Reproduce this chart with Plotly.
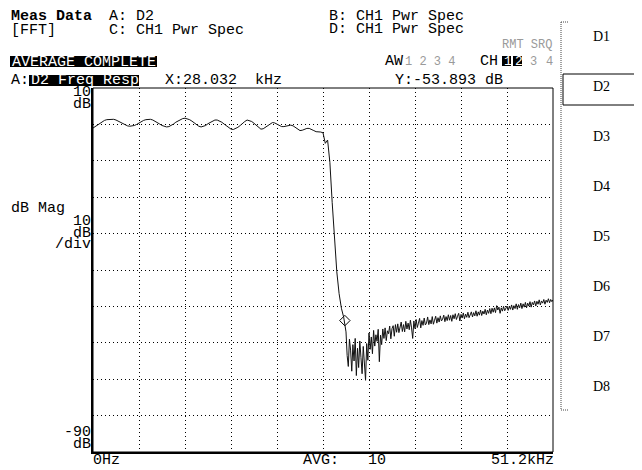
import numpy as np
import plotly.graph_objects as go

# analyzer bins: passband/rolloff part and noise-floor part
freq_pass_khz = np.linspace(0, 27.904, 110)
freq_floor_khz = np.linspace(28.16, 51.2, 181)

# D2 frequency response, dB
pass_db = [
    -1.0, -0.6, -0.1, 0.4, 0.8, 1.1, 1.3, 1.4, 1.4, 1.4,
    1.2, 0.9, 0.5, 0.1, -0.2, -0.4, -0.5, -0.5, -0.3, 0.0,
    0.4, 0.8, 1.1, 1.3, 1.4, 1.4, 1.2, 0.9, 0.5, 0.1,
    -0.3, -0.6, -0.7, -0.6, -0.3, 0.1, 0.6, 1.0, 1.4, 1.6,
    1.7, 1.6, 1.3, 0.9, 0.4, -0.1, -0.5, -0.7, -0.6, -0.3,
    0.2, 0.6, 1.0, 1.2, 1.2, 1.0, 0.6, 0.1, -0.4, -0.9,
    -1.3, -1.4, -1.2, -0.8, -0.3, 0.3, 0.8, 1.2, 1.1, 0.8,
    0.3, -0.3, -0.9, -1.3, -1.2, -0.8, -0.3, 0.2, 0.5, 0.4,
    0.1, -0.3, -0.6, -0.6, -0.4, -0.2, -0.2, -0.4, -0.9, -1.4,
    -1.7, -1.6, -1.3, -1.1, -1.1, -1.3, -1.7, -2.0, -2.0, -2.1,
    -2.3, -5.2, -4.3, -10.5, -21.5, -30.5, -40.5, -46.5, -50.5, -53.0,
]
floor_db = [
    -57.0, -63.5, -66.5, -59.0, -62.0, -67.8, -60.5, -65.0, -58.8, -69.0,
    -61.5, -66.8, -59.5, -64.0, -68.5, -61.0, -66.0, -70.3, -60.2, -64.8,
    -57.3, -61.8, -58.4, -63.0, -56.6, -60.9, -57.8, -59.6, -56.3, -65.2,
    -57.9, -60.5, -56.2, -58.8, -55.9, -59.4, -56.7, -57.5, -55.4, -58.9,
    -56.1, -55.3, -58.2, -55.0, -57.1, -54.8,
    -57.2, -55.1, -54.3, -56.9, -55.0, -57.0, -54.1, -56.2, -54.6, -56.4,
    -53.8, -55.9, -58.8, -54.0, -56.1, -53.6, -55.8, -54.6, -53.3, -55.9,
    -53.9, -55.2, -53.2, -55.1, -54.6, -52.9, -55.0, -53.7, -54.8, -52.8,
    -54.9, -53.8, -52.7, -54.6, -53.1, -54.3, -52.6, -54.0, -53.5, -52.4,
    -54.2, -52.8, -53.9, -52.3, -53.8, -52.5, -54.1, -52.3, -53.4, -52.0,
    -53.6, -52.7, -51.9, -54.0, -52.2, -53.2, -51.8, -53.4, -52.1, -53.0,
    -51.6, -53.1, -52.2, -51.5, -52.9, -51.7, -52.6, -51.2, -52.7, -51.5,
    -52.4, -51.0, -52.5, -51.3, -52.1, -50.8, -52.3, -51.0, -51.9, -50.6,
    -52.0, -50.5, -51.6, -50.4, -51.7, -49.8, -51.0, -50.2, -51.9, -50.4,
    -51.3, -50.0, -51.2, -50.3, -49.9, -51.1, -50.0, -50.8, -49.6, -51.0,
    -49.8, -50.6, -49.3, -50.8, -49.5, -50.4, -49.1, -50.6, -49.3, -50.2,
    -48.9, -50.4, -49.1, -49.9, -48.7, -50.2, -48.9, -49.6, -48.5, -49.9,
    -48.6, -49.4, -48.2, -49.6, -48.5, -49.1, -48.1, -49.4, -48.3, -48.9,
    -47.9, -49.0, -48.1, -48.7, -48.2,
]

marker_x = 28.032
marker_y = -53.893
softkeys = ["D1", "D2", "D3", "D4", "D5", "D6", "D7", "D8"]

MONO = "Liberation Mono"
# plot box in page pixels; the html body adds an 8px margin
L, R, T, B = 93, 553, 88, 452
OFF = 8


def px(x):
    return (x - L) / (R - L)


def py(y):
    return (B - y) / (B - T)


fig = go.Figure()
fig.add_trace(go.Scatter(
    x=np.concatenate([freq_pass_khz, freq_floor_khz]),
    y=pass_db + floor_db, mode="lines",
    line=dict(color="#111111", width=1),
    hoverinfo="skip"
))
fig.add_trace(go.Scatter(
    x=[marker_x], y=[marker_y], mode="markers",
    marker=dict(symbol="diamond-open", size=8, color="black", line=dict(width=1)),
    hoverinfo="skip"
))

annots = []


def lab(text, x, y, anchor="left", color="black", size=15, family=MONO):
    annots.append(dict(
        text=text, x=px(x), y=py(y), xref="paper", yref="paper",
        xanchor=anchor, yanchor="middle", showarrow=False,
        font=dict(family=family, size=size, color=color),
        borderpad=0
    ))


shapes = []


def box(x0, y0, x1, y1, fill="black", line=None, dash=None, width=1):
    shapes.append(dict(
        type="rect", xref="paper", yref="paper",
        x0=px(x0), x1=px(x1), y0=py(y0), y1=py(y1),
        fillcolor=fill, line=dict(color=line or "rgba(0,0,0,0)", width=width, dash=dash)
    ))


def seg(x0, y0, x1, y1, color="black", dash=None, width=1):
    shapes.append(dict(
        type="line", xref="paper", yref="paper",
        x0=px(x0), x1=px(x1), y0=py(y0), y1=py(y1),
        line=dict(color=color, width=width, dash=dash)
    ))


# header
lab("<b>Meas Data</b>", 10, 16)
lab("A: D2", 108, 16)
lab("B: CH1 Pwr Spec", 328, 16)
lab("[FFT]", 10, 31)
lab("C: CH1 Pwr Spec", 108, 31)
lab("D: CH1 Pwr Spec", 328, 30)
lab("RMT SRQ", 553, 45, anchor="right", color="#9a9a9a", size=12)

box(10, 56, 157, 67)
lab("AVERAGE COMPLETE", 11, 62, color="white")
lab("AW", 384, 61)
lab("1 2 3 4", 404, 62, color="#9a9a9a", size=12)
lab("CH", 479, 61)
box(502, 56, 511, 66)
lab("1", 503, 61, color="white", size=13)
box(513, 56, 522, 66)
lab("2", 514, 61, color="white", size=13)
lab("3", 529, 62, color="#9a9a9a", size=12)
lab("4", 545, 62, color="#9a9a9a", size=12)

lab("A:", 10, 80)
box(29, 75, 139, 86)
lab("D2 Freq Resp", 30, 80, color="white")
lab("X:28.032  kHz", 164, 80)
lab("Y:-53.893 dB", 394, 80)

# left axis labels
lab("10", 92, 93, anchor="right")
lab("dB", 92, 105, anchor="right")
lab("dB Mag", 10, 208)
lab("10", 92, 221, anchor="right")
lab("dB", 92, 233, anchor="right")
lab("/div", 92, 244, anchor="right")
lab("-90", 92, 432, anchor="right")
lab("dB", 92, 444, anchor="right")

# bottom labels
lab("0Hz", 92, 460)
lab("AVG:", 302, 460)
lab("10", 367, 460)
lab("51.2kHz", 555, 460, anchor="right")

# softkey panel
seg(561, 22, 561, 410, color="#444", dash="1px,1px")
seg(561, 22, 568, 22, color="#444", dash="1px,1px")
seg(561, 410, 568, 410, color="#444", dash="1px,1px")
box(563, 74, 641, 105, fill="rgba(0,0,0,0)", line="black")
for i, k in enumerate(softkeys):
    lab(k, 592, 36 + i * 50.1, family="Liberation Serif", size=14)

# top/right frame
box(L, T, R, B, fill="rgba(0,0,0,0)", line="black")

fig.update_layout(
    width=642 - OFF, height=470 - OFF,
    margin=dict(l=L - OFF, r=642 - R, t=T - OFF, b=470 - B),
    paper_bgcolor="white", plot_bgcolor="white",
    showlegend=False,
    annotations=annots, shapes=shapes,
    xaxis=dict(range=[0, 51.2], tick0=0, dtick=5.12, showticklabels=False,
               ticks="", showgrid=True, gridcolor="black", gridwidth=1,
               griddash="1px,3px", zeroline=False, showline=True,
               linecolor="black", linewidth=2, fixedrange=True),
    yaxis=dict(range=[-90, 10], tick0=-90, dtick=10, showticklabels=False,
               ticks="", showgrid=True, gridcolor="black", gridwidth=1,
               griddash="1px,3px", zeroline=False, showline=True,
               linecolor="black", linewidth=2, fixedrange=True),
)

fig.write_html("out.html")
